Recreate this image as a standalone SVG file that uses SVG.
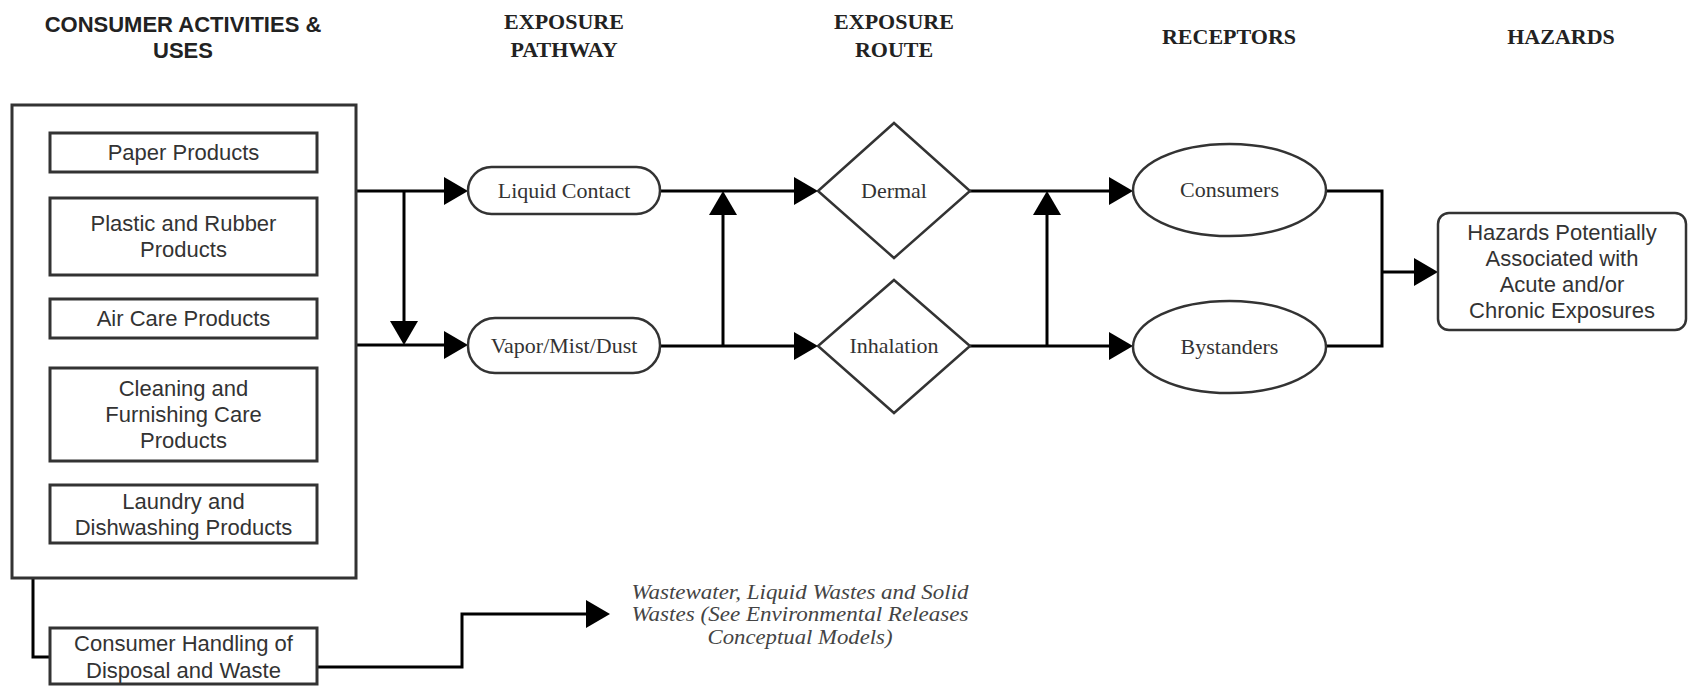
<svg xmlns="http://www.w3.org/2000/svg" width="1688" height="686" viewBox="0 0 1688 686">
<style>
.hs{font-family:"Liberation Sans",Arial,sans-serif;font-size:22px;font-weight:bold;fill:#222;text-anchor:middle}
.hr{font-family:"Liberation Serif","Times New Roman",serif;font-size:22px;font-weight:bold;fill:#222;text-anchor:middle}
.box{fill:#fff;stroke:#333;stroke-width:3}
.shape{fill:#fff;stroke:#333;stroke-width:2.5}
.ts{font-family:"Liberation Sans",Arial,sans-serif;font-size:22px;fill:#333;text-anchor:middle}
.tr{font-family:"Liberation Serif","Times New Roman",serif;font-size:22px;fill:#333;text-anchor:middle}
.ti{font-family:"Liberation Serif","Times New Roman",serif;font-size:21px;font-style:italic;fill:#444;text-anchor:middle}
.c{fill:none;stroke:#000;stroke-width:3}
.a{marker-end:url(#arr)}
</style>
<defs>
<marker id="arr" markerUnits="userSpaceOnUse" markerWidth="24" markerHeight="28" viewBox="0 0 24 28" refX="14" refY="14" orient="auto">
<path d="M0,0 L24,14 L0,28 z" fill="#000"/>
</marker>
</defs>
<rect width="1688" height="686" fill="#fff"/>
<g id="headers">
<text class="hs" x="183" y="32">CONSUMER ACTIVITIES &amp;</text>
<text class="hs" x="183" y="58">USES</text>
<text class="hr" x="564" y="29">EXPOSURE</text>
<text class="hr" x="564" y="57">PATHWAY</text>
<text class="hr" x="894" y="29">EXPOSURE</text>
<text class="hr" x="894" y="57">ROUTE</text>
<text class="hr" x="1229" y="44">RECEPTORS</text>
<text class="hr" x="1561" y="44">HAZARDS</text>
</g>
<g id="connectors">
<path class="c a" d="M356,191 H458"/>
<path class="c a" d="M356,345 H458"/>
<path class="c a" d="M404,191 V335"/>
<path class="c a" d="M660,191 H808"/>
<path class="c a" d="M660,346 H808"/>
<path class="c a" d="M723,346 V201"/>
<path class="c a" d="M970,191 H1123"/>
<path class="c a" d="M970,346 H1123"/>
<path class="c a" d="M1047,346 V201"/>
<path class="c" d="M1326,191 H1382 V346 H1326"/>
<path class="c a" d="M1382,272 H1428"/>
<path class="c" d="M33,578 V657 H50"/>
<path class="c a" d="M317,667 H462 V614 H600"/>
</g>
<g id="consumer-activities">
<rect class="box" x="12" y="105" width="344" height="473"/>
</g>
<g id="paper-products">
<rect class="box" x="50" y="133" width="267" height="39"/>
<text class="ts" x="183.5" y="160">Paper Products</text>
</g>
<g id="plastic-rubber">
<rect class="box" x="50" y="198" width="267" height="77"/>
<text class="ts" x="183.5" y="231">Plastic and Rubber</text>
<text class="ts" x="183.5" y="257">Products</text>
</g>
<g id="air-care">
<rect class="box" x="50" y="299" width="267" height="39"/>
<text class="ts" x="183.5" y="326">Air Care Products</text>
</g>
<g id="cleaning">
<rect class="box" x="50" y="368" width="267" height="93"/>
<text class="ts" x="183.5" y="396">Cleaning and</text>
<text class="ts" x="183.5" y="422">Furnishing Care</text>
<text class="ts" x="183.5" y="448">Products</text>
</g>
<g id="laundry">
<rect class="box" x="50" y="485" width="267" height="58"/>
<text class="ts" x="183.5" y="509">Laundry and</text>
<text class="ts" x="183.5" y="535">Dishwashing Products</text>
</g>
<g id="disposal">
<rect class="box" x="50" y="628" width="267" height="56"/>
<text class="ts" x="183.5" y="651">Consumer Handling of</text>
<text class="ts" x="183.5" y="678">Disposal and Waste</text>
</g>
<g id="liquid-contact">
<rect class="shape" x="468" y="167" width="192" height="47" rx="23.5"/>
<text class="tr" x="564" y="198">Liquid Contact</text>
</g>
<g id="vapor">
<rect class="shape" x="468" y="318" width="192" height="55" rx="27"/>
<text class="tr" x="564" y="353">Vapor/Mist/Dust</text>
</g>
<g id="dermal">
<polygon class="shape" points="894,123 970,191 894,258 818,191"/>
<text class="tr" x="894" y="198">Dermal</text>
</g>
<g id="inhalation">
<polygon class="shape" points="894,280 970,346 894,413 818,346"/>
<text class="tr" x="894" y="353">Inhalation</text>
</g>
<g id="consumers">
<ellipse class="shape" cx="1229.5" cy="190" rx="96.5" ry="46"/>
<text class="tr" x="1229.5" y="197">Consumers</text>
</g>
<g id="bystanders">
<ellipse class="shape" cx="1229.5" cy="347" rx="96.5" ry="46"/>
<text class="tr" x="1229.5" y="354">Bystanders</text>
</g>
<g id="hazards">
<rect class="shape" x="1438" y="213" width="248" height="117" rx="11"/>
<text class="ts" x="1562" y="240">Hazards Potentially</text>
<text class="ts" x="1562" y="266">Associated with</text>
<text class="ts" x="1562" y="292">Acute and/or</text>
<text class="ts" x="1562" y="318">Chronic Exposures</text>
</g>
<g id="wastes">
<text class="ti" x="800" y="599" textLength="337" lengthAdjust="spacingAndGlyphs">Wastewater, Liquid Wastes and Solid</text>
<text class="ti" x="800" y="621" textLength="337" lengthAdjust="spacingAndGlyphs">Wastes (See Environmental Releases</text>
<text class="ti" x="800" y="644" textLength="185" lengthAdjust="spacingAndGlyphs">Conceptual Models)</text>
</g>
</svg>
